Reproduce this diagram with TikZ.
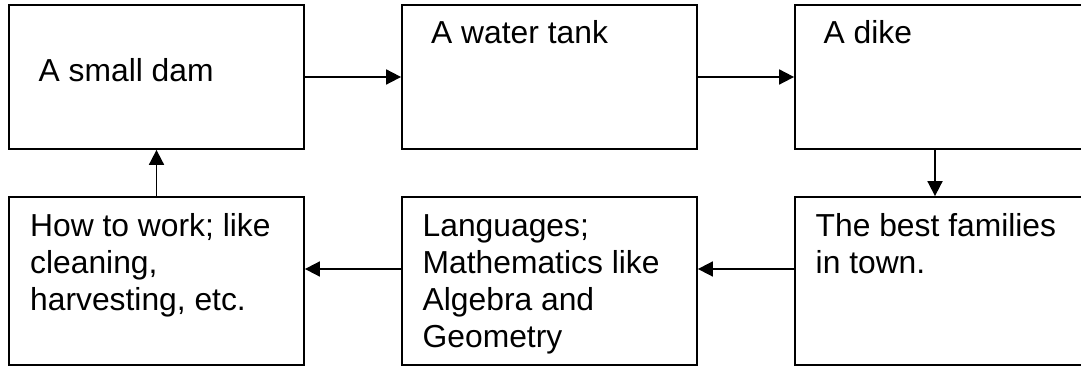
\documentclass[tikz,border=0pt]{standalone}
\usepackage{fontspec}
\setmainfont{Liberation Sans}
\usetikzlibrary{arrows.meta}
\tikzset{
  box/.style={draw=black, line width=1.8pt, minimum width=295pt, inner sep=0pt},
  txt/.style={anchor=base west, inner sep=0pt, font=\fontsize{31.8pt}{36.7pt}\selectfont},
  arr/.style={line width=1.8pt, -{Triangle[length=15pt,width=15pt]}}
}
\begin{document}
\begin{tikzpicture}[x=1pt,y=1pt]
\useasboundingbox (0,0) rectangle (1081,366);
% top row
\node[box, minimum height=144pt] (b1) at (156.5,289) {};
\node[box, minimum height=144pt] (b2) at (549.5,289) {};
\node[box, minimum height=144pt] (b3) at (942.5,289) {};
% bottom row
\node[box, minimum height=168pt] (b6) at (156.5,85) {};
\node[box, minimum height=168pt] (b5) at (549.5,85) {};
\node[box, minimum height=168pt] (b4) at (942.5,85) {};
% texts
\node[txt] (t1) at (38.5,284) {A small dam};
\node[txt] (t2) at (431,322) {A water tank};
\node[txt] (t3) at (823.5,322) {A dike};
\node[txt] (t4) at (815.5,129) {\vtop{\hbox{The best families}\hbox{in town.}}};
\node[txt] (t5) at (422.5,129) {\vtop{\hbox{Languages;}\hbox{Mathematics like}\hbox{Algebra and}\hbox{Geometry}}};
\node[txt] (t6) at (30,129) {\vtop{\hbox{How to work; like}\hbox{cleaning,}\hbox{harvesting, etc.}}};
% connectors
\draw[arr] (b1.east) -- (b2.west);
\draw[arr] (b2.east) -- (b3.west);
\draw[arr] ([xshift=-7.5pt]b3.south) -- ([xshift=-7.5pt]b4.north);
\draw[arr] ([yshift=12pt]b4.west) -- ([yshift=12pt]b5.east);
\draw[arr] ([yshift=12pt]b5.west) -- ([yshift=12pt]b6.east);
\draw[arr] (b6.north) -- (b1.south);
\end{tikzpicture}
\end{document}
